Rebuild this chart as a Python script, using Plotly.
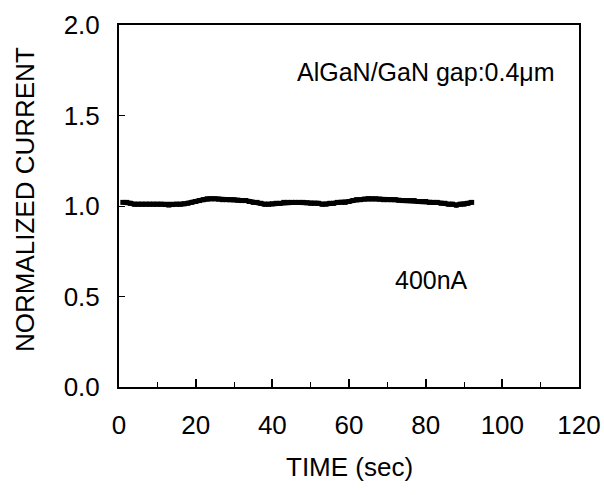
import plotly.graph_objects as go

# Normalized current vs time at 400 nA bias
time_s = list(range(1, 93))
current_norm = [
    1.02, 1.02, 1.015, 1.01, 1.01, 1.01, 1.01, 1.01, 1.01, 1.01,
    1.01, 1.008, 1.005, 1.008, 1.01, 1.01, 1.012, 1.015, 1.02, 1.025,
    1.03, 1.035, 1.04, 1.04, 1.04, 1.038, 1.035, 1.035, 1.035, 1.035,
    1.032, 1.03, 1.03, 1.025, 1.02, 1.02, 1.015, 1.01, 1.01, 1.012,
    1.015, 1.015, 1.02, 1.02, 1.02, 1.02, 1.02, 1.02, 1.018, 1.015,
    1.015, 1.015, 1.01, 1.01, 1.015, 1.015, 1.02, 1.02, 1.02, 1.025,
    1.03, 1.035, 1.035, 1.038, 1.04, 1.04, 1.04, 1.038, 1.035, 1.035,
    1.035, 1.035, 1.032, 1.03, 1.03, 1.03, 1.03, 1.025, 1.025, 1.025,
    1.02, 1.02, 1.02, 1.015, 1.015, 1.01, 1.01, 1.005, 1.01, 1.01,
    1.015, 1.02,
]

x_ticks = [0, 20, 40, 60, 80, 100, 120]
y_ticks = [0.0, 0.5, 1.0, 1.5, 2.0]

FONT = "Liberation Sans, Arial, Helvetica, sans-serif"

fig = go.Figure()
fig.add_trace(go.Scatter(
    x=time_s, y=current_norm,
    mode="lines+markers",
    line=dict(color="black", width=5),
    marker=dict(symbol="square", size=5, color="black"),
    showlegend=False,
))

fig.add_annotation(x=114.2, y=1.74, xref="x", yref="y", xanchor="right",
                   text="AlGaN/GaN gap:0.4\u03bcm", showarrow=False,
                   font=dict(family=FONT, size=25, color="black"))
fig.add_annotation(x=81.5, y=0.59, xref="x", yref="y", xanchor="center",
                   text="400nA", showarrow=False,
                   font=dict(family=FONT, size=25, color="black"))

# Axis titles
fig.add_annotation(x=0.5, y=-0.221, xref="paper", yref="paper",
                   xanchor="center", yanchor="middle", showarrow=False,
                   text="TIME (sec)",
                   font=dict(family=FONT, size=26, color="black"))
fig.add_annotation(x=-0.204, y=0.517, xref="paper", yref="paper",
                   xanchor="center", yanchor="middle", showarrow=False,
                   text="NORMALIZED CURRENT", textangle=-90,
                   font=dict(family=FONT, size=26, color="black"))

fig.update_xaxes(
    range=[0, 120], tickvals=x_ticks, ticktext=[str(v) for v in x_ticks],
    ticks="inside", ticklen=8, tickwidth=1.5, tickcolor="black",
    minor=dict(dtick=10, ticks="inside", ticklen=5, tickwidth=1, tickcolor="black"),
    showline=True, linecolor="black", linewidth=2, mirror=True,
    showgrid=False, zeroline=False, automargin=False,
    ticklabelstandoff=14,
    tickfont=dict(family=FONT, size=26, color="black"),
)
fig.update_yaxes(
    range=[0, 2], tickvals=y_ticks, ticktext=[f"{v:.1f}" for v in y_ticks],
    ticks="inside", ticklen=6, tickwidth=1, tickcolor="black",
    showline=True, linecolor="black", linewidth=2, mirror=True,
    showgrid=False, zeroline=False, automargin=False,
    ticklabelstandoff=12,
    tickfont=dict(family=FONT, size=26, color="black"),
)

fig.update_layout(
    width=604, height=495,
    margin=dict(l=119, r=25, t=25, b=108),
    paper_bgcolor="white", plot_bgcolor="white",
)

fig.write_html("out.html")
